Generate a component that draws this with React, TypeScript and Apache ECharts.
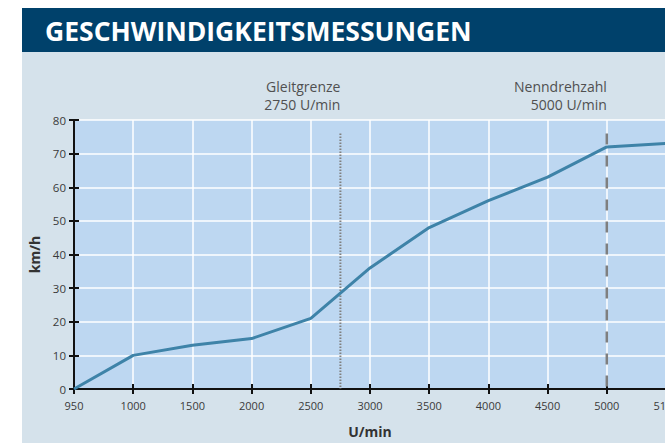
import React, { useEffect, useRef } from "react";
import * as echarts from "echarts";

const categories = ["950", "1000", "1500", "2000", "2500", "3000", "3500", "4000", "4500", "5000", "5100"];
const speeds = [0, 10, 13, 15, 21, 36, 48, 56, 63, 72, 73];
const yMin = 0;
const yMax = 80;
const yInterval = 10;
const markerRpm = [2750, 5000];
const markerNames = ["Gleitgrenze", "Nenndrehzahl"];
const markerTop = 76;
const titleText = "GESCHWINDIGKEITSMESSUNGEN";
const xName = "U/min";
const yName = "km/h";

function rpmToIndex(rpm: number): number {
  const vals = categories.map(Number);
  for (let i = 0; i < vals.length - 1; i++) {
    if (rpm >= vals[i] && rpm <= vals[i + 1]) {
      return i + (rpm - vals[i]) / (vals[i + 1] - vals[i]);
    }
  }
  return vals.length - 1;
}

const FONT = "'Open Sans', 'Noto Sans', sans-serif";

export default function App() {
  const ref = useRef<HTMLDivElement>(null);
  useEffect(() => {
    if (!ref.current) return;
    const chart = echarts.init(ref.current, undefined, { renderer: "svg" });
    const markerIdx = markerRpm.map(rpmToIndex);
    const axisCommon = {
      axisLine: { show: false },
      axisLabel: { show: false },
      splitLine: { show: false },
    };
    const option: any = {
      animation: false,
      textStyle: { fontFamily: FONT },
      grid: {
        left: 74,
        right: -1,
        top: 120,
        bottom: 54,
        show: true,
        backgroundColor: "#bdd7f1",
        borderWidth: 0,
        containLabel: false,
        outerBoundsMode: "none",
      },
      xAxis: [
        {
          type: "category",
          data: categories,
          boundaryGap: false,
          axisLine: { show: true, onZero: false, lineStyle: { color: "#111", width: 2 } },
          axisTick: { show: true, length: 5, lineStyle: { color: "#111", width: 2 } },
          axisLabel: { color: "#3a3a3a", fontSize: 11, margin: 11, fontFamily: FONT, hideOverlap: false },
          splitLine: { show: true, lineStyle: { color: "#ffffff", width: 1.5 } },
          name: xName,
          nameLocation: "middle",
          nameGap: 35,
          nameTextStyle: { color: "#333", fontSize: 14, fontWeight: "bold", fontFamily: FONT },
        },
        {
          type: "category",
          data: categories,
          boundaryGap: false,
          position: "bottom",
          ...axisCommon,
          axisTick: { show: true, inside: true, length: 5, lineStyle: { color: "#111", width: 2 } },
        },
        {
          type: "value",
          min: 0,
          max: categories.length - 1,
          show: false,
        },
      ],
      yAxis: [
        {
          type: "value",
          min: yMin,
          max: yMax,
          interval: yInterval,
          axisLine: { show: true, onZero: false, lineStyle: { color: "#111", width: 2 } },
          axisTick: { show: true, length: 5, lineStyle: { color: "#111", width: 2 } },
          axisLabel: { color: "#3a3a3a", fontSize: 11.5, margin: 8, fontFamily: FONT },
          splitLine: { show: true, lineStyle: { color: "#ffffff", width: 1.5 } },
          name: yName,
          nameLocation: "middle",
          nameGap: 32,
          nameTextStyle: { color: "#333", fontSize: 14, fontWeight: "bold", fontFamily: FONT },
        },
        {
          type: "value",
          min: yMin,
          max: yMax,
          interval: yInterval,
          position: "left",
          ...axisCommon,
          axisTick: { show: true, inside: true, length: 5, lineStyle: { color: "#111", width: 2 } },
        },
      ],
      series: [
        {
          type: "line",
          xAxisIndex: 2,
          yAxisIndex: 0,
          data: [
            [markerIdx[0], markerTop],
            [markerIdx[0], yMin],
          ],
          symbol: "none",
          silent: true,
          lineStyle: { color: "#808080", width: 2, type: [1.5, 1.5] },
          z: 3,
        },
        {
          type: "line",
          xAxisIndex: 2,
          yAxisIndex: 0,
          data: [
            [markerIdx[1], markerTop],
            [markerIdx[1], yMin],
          ],
          symbol: "none",
          silent: true,
          lineStyle: { color: "#7f7f7f", width: 2.5, type: [11, 11] },
          z: 3,
        },
        {
          type: "line",
          xAxisIndex: 0,
          yAxisIndex: 0,
          data: speeds,
          symbol: "none",
          lineStyle: { color: "#3e83a8", width: 3 },
          z: 4,
        },
      ],
      graphic: [
        {
          type: "rect",
          z: -10,
          shape: { x: 22, y: 52, width: 700, height: 400 },
          style: { fill: "#d5e2eb" },
        },
        {
          type: "rect",
          z: -10,
          shape: { x: 22, y: 8, width: 700, height: 44 },
          style: { fill: "#00416b" },
        },
        {
          type: "text",
          z: 10,
          x: 45,
          y: 31,
          style: {
            text: titleText,
            fill: "#ffffff",
            font: `bold 26.5px ${FONT}`,
            verticalAlign: "middle",
          },
        },
      ],
    };
    chart.setOption(option);

    const topY = chart.convertToPixel({ yAxisIndex: 0 }, yMax) as number;
    const texts: any[] = [];
    markerIdx.forEach((idx, i) => {
      const px = chart.convertToPixel({ xAxisIndex: 2 }, idx) as number;
      texts.push({
        type: "text",
        z: 10,
        x: px,
        y: topY - 25,
        style: {
          text: `${markerNames[i]}\n${markerRpm[i]} U/min`,
          fill: "#505050",
          font: `14px ${FONT}`,
          align: "right",
          verticalAlign: "middle",
          lineHeight: 18,
        },
      });
    });
    chart.setOption({ graphic: [...option.graphic, ...texts] });

    return () => chart.dispose();
  }, []);
  return (
    <div
      ref={ref}
      style={{ position: "fixed", left: 0, top: 0, width: 665, height: 443, background: "#ffffff" }}
    />
  );
}
